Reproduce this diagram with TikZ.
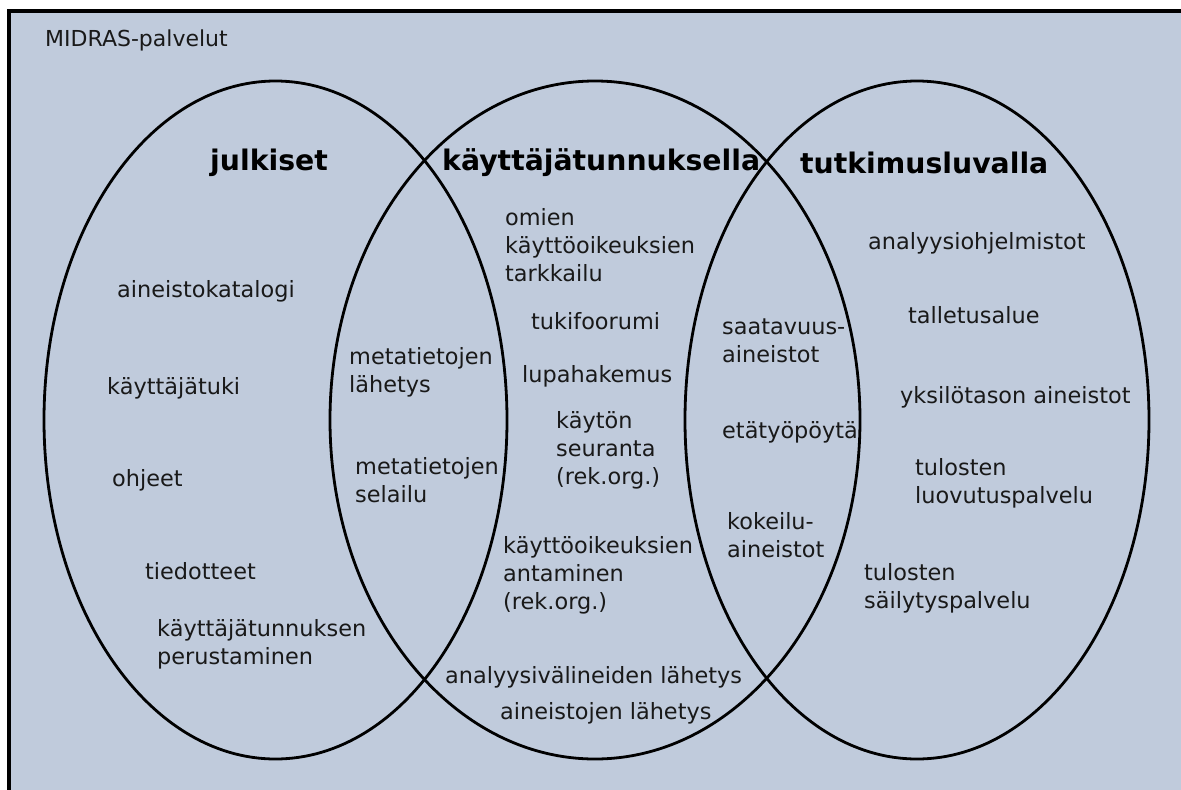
\documentclass[tikz,border=0pt]{standalone}
\usepackage{fontspec}
\setmainfont{DejaVu Sans}
\definecolor{panel}{RGB}{192,203,220}
\tikzset{
  setring/.style={draw=black, line width=2.8pt},
  item/.style={anchor=west, inner sep=0pt, align=left, font=\fontsize{22.4}{28}\selectfont, text=black!90},
  heading/.style={anchor=west, inner sep=0pt, font=\fontsize{28.3}{32}\selectfont\bfseries},
}
\begin{document}
\begin{tikzpicture}[x=1pt, y=-1pt]
  \useasboundingbox (0,0) rectangle (1181,790);
  \clip (0,0) rectangle (1181,790);
  \fill[white] (0,0) rectangle (1181,790);
  % service area frame (runs past the right and bottom edges)
  \draw[fill=panel, line width=3.5pt] (9,11) rectangle (1200,820);
  \node[anchor=west, inner sep=0pt, font=\fontsize{22}{25}\selectfont, text=black!90] (title) at (45,40) {MIDRAS-palvelut};

  % the three service circles
  \draw[setring] (275.5,420) ellipse [x radius=231.5, y radius=339];
  \draw[setring] (595,420) ellipse [x radius=265, y radius=339];
  \draw[setring] (917,420) ellipse [x radius=232, y radius=339];

  \node[heading] (hpub) at (210,163) {julkiset};
  \node[heading] (huser) at (442,163) {käyttäjätunnuksella};
  \node[heading] (hres) at (800,163) {tutkimusluvalla};

  % public services
  \node[item] (p1) at (117,291) {aineistokatalogi};
  \node[item] (p2) at (107,388) {käyttäjätuki};
  \node[item] (p3) at (112,480) {ohjeet};
  \node[item] (p4) at (145,571) {tiedotteet};
  \node[item] (p5) at (157,644) {käyttäjätunnuksen\\perustaminen};

  % public and user account
  \node[item] (m1) at (349,372) {metatietojen\\lähetys};
  \node[item] (m2) at (355,480) {metatietojen\\selailu};

  % user account
  \node[item] (u1) at (505,245) {omien\\käyttöoikeuksien\\tarkkailu};
  \node[item] (u2) at (531,321) {tukifoorumi};
  \node[item] (u3) at (522,376) {lupahakemus};
  \node[item] (u4) at (556,450) {käytön\\seuranta\\(rek.org.)};
  \node[item] (u5) at (503,575) {käyttöoikeuksien\\antaminen\\(rek.org.)};
  \node[item] (u6) at (445,677) {analyysivälineiden lähetys};
  \node[item] (u7) at (500,713) {aineistojen lähetys};

  % user account and research permit
  \node[item] (r1) at (722,341) {saatavuus-\\aineistot};
  \node[item] (r2) at (722,432) {etätyöpöytä};
  \node[item] (r3) at (727,535) {kokeilu-\\aineistot};

  % research permit
  \node[item] (t1) at (868,243) {analyysiohjelmistot};
  \node[item] (t2) at (908,315) {talletusalue};
  \node[item] (t3) at (900,397) {yksilötason aineistot};
  \node[item] (t4) at (915,483) {tulosten\\luovutuspalvelu};
  \node[item] (t5) at (864,588) {tulosten\\säilytyspalvelu};
\end{tikzpicture}
\end{document}
